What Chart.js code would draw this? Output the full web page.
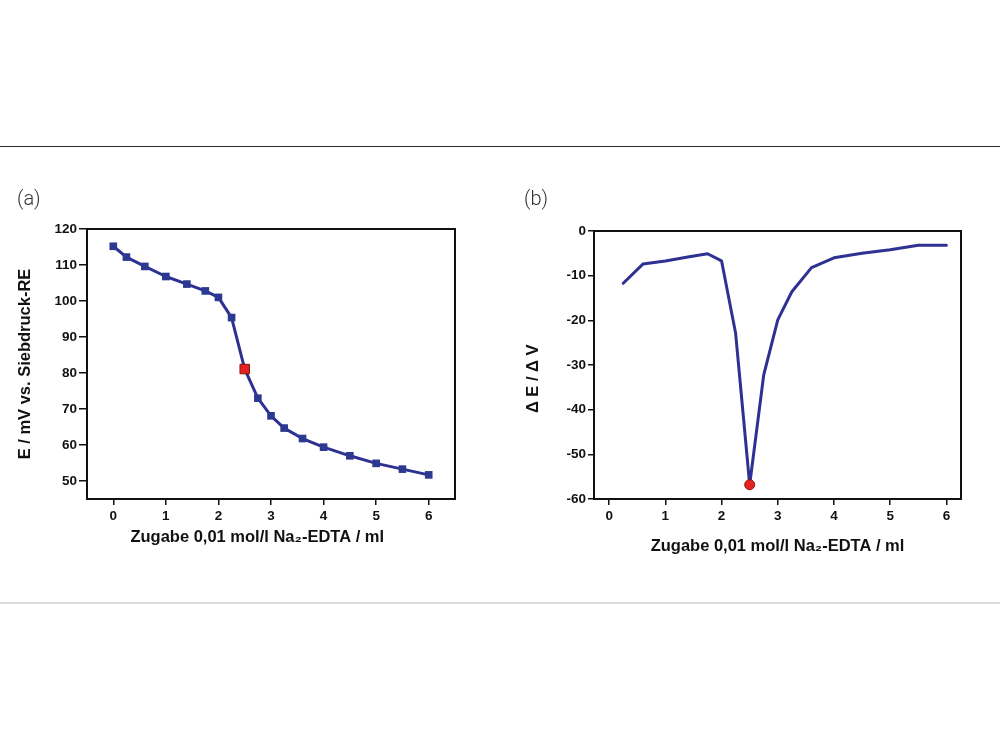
<!DOCTYPE html>
<html><head><meta charset="utf-8">
<script src="https://cdn.jsdelivr.net/npm/chart.js@4.4.1/dist/chart.umd.min.js"></script>
<style>
html,body{margin:0;padding:0;background:#fff;width:1000px;height:750px;overflow:hidden;position:relative;}
.rule-top{position:absolute;left:0;top:146px;width:1000px;height:1px;background:#2a2a2a;}
.rule-bottom{position:absolute;left:0;top:602px;width:1000px;height:2px;background:#dedede;}
.chart-box{position:absolute;}
.panel-label{position:absolute;font-family:Roboto,"Open Sans",sans-serif;font-weight:300;font-size:20px;line-height:20px;color:#333;}
</style></head>
<body>
<div class="rule-top"></div>
<div class="rule-bottom"></div>
<div class="chart-box" style="left:0;top:200px;width:490px;height:400px;"><canvas id="chartA"></canvas></div>
<div class="chart-box" style="left:500px;top:200px;width:500px;height:400px;"><canvas id="chartB"></canvas></div>
<div class="panel-label" style="left:17px;top:188px;">(a)</div>
<div class="panel-label" style="left:524px;top:188px;">(b)</div>
<script>
// ---- data (a): titration curve ----
const volumeA = [0, 0.25, 0.6, 1.0, 1.4, 1.75, 2.0, 2.25, 2.5, 2.75, 3.0, 3.25, 3.6, 4.0, 4.5, 5.0, 5.5, 6.0];
const potentialA = [115.2, 112.2, 109.6, 106.8, 104.7, 102.8, 101.0, 95.4, 81.1, 73.0, 68.1, 64.7, 61.8, 59.4, 57.0, 54.9, 53.3, 51.7];
// ---- data (b): first derivative ----
const volumeB = [0.25, 0.6, 1.0, 1.4, 1.75, 2.0, 2.25, 2.5, 2.75, 3.0, 3.25, 3.6, 4.0, 4.5, 5.0, 5.5, 6.0];
const derivB = [-11.7, -7.4, -6.7, -5.8, -5.1, -6.7, -22.9, -56.8, -32.2, -19.9, -13.6, -8.2, -6.0, -5.0, -4.2, -3.2, -3.2];
// equivalence point volume (highlighted in red)
const equivalenceVolume = 2.5;
// ---- tick labels ----
const xTickValues = [0, 1, 2, 3, 4, 5, 6];
const yTicksA = [50, 60, 70, 80, 90, 100, 110, 120];
const yTicksB = [-60, -50, -40, -30, -20, -10, 0];
// ---- texts ----
const xTitle = 'Zugabe 0,01 mol/l Na\u2082-EDTA / ml';
const yTitleA = 'E / mV vs. Siebdruck-RE';
const yTitleB = '\u0394 E / \u0394 V';

const NAVY = '#2E3192', MARK = '#2B3990', RED = '#E42320', DARKRED = '#8A1212', INK = '#111111';
const FONT = '"Liberation Sans", Arial, Helvetica, sans-serif';

const pts = (xs, ys) => xs.map((x, i) => ({x: x, y: ys[i]}));
const eqA = volumeA.indexOf(equivalenceVolume);
const eqB = volumeB.indexOf(equivalenceVolume);

const frame = {
  id: 'frame',
  beforeDatasetsDraw(chart) {
    const {ctx, chartArea: a} = chart;
    ctx.save();
    ctx.strokeStyle = INK;
    ctx.lineWidth = 2;
    ctx.strokeRect(a.left, a.top, a.right - a.left, a.bottom - a.top);
    ctx.restore();
  }
};

function xScale(min, max, titleText, titlePadBottom) {
  return {
    type: 'linear', position: 'bottom', min: min, max: max,
    afterBuildTicks: s => { s.ticks = xTickValues.map(v => ({value: v})); },
    afterFit: s => { s.height = 101; },
    grid: {drawOnChartArea: false, drawTicks: true, tickLength: 6, color: INK, lineWidth: 1.5},
    border: {display: false},
    ticks: {color: INK, font: {family: FONT, size: 13.5, weight: 'bold'}, padding: 3, maxRotation: 0, autoSkip: false},
    title: {display: true, text: titleText, color: INK, font: {family: FONT, size: 16.5, weight: 'bold'}, padding: {top: 0, bottom: titlePadBottom}}
  };
}
function yScale(min, max, tickList, width, tickLen, titleText, titlePadTop) {
  return {
    type: 'linear', position: 'left', min: min, max: max,
    afterBuildTicks: s => { s.ticks = tickList.map(v => ({value: v})); },
    afterFit: s => { s.width = width; },
    grid: {drawOnChartArea: false, drawTicks: true, tickLength: tickLen, color: INK, lineWidth: 1.5},
    border: {display: false},
    ticks: {color: INK, font: {family: FONT, size: 13.5, weight: 'bold'}, padding: 2, autoSkip: false},
    title: {display: true, text: titleText, color: INK, font: {family: FONT, size: 16.5, weight: 'bold'}, padding: {top: titlePadTop, bottom: 0}}
  };
}
const common = {
  responsive: true, maintainAspectRatio: false, animation: false, devicePixelRatio: 1,
  plugins: {legend: {display: false}, tooltip: {enabled: false}}
};

new Chart(document.getElementById('chartA'), {
  type: 'line',
  data: {
    datasets: [
      {label: 'E', order: 2, data: pts(volumeA, potentialA), borderColor: NAVY, borderWidth: 3, tension: 0, borderJoinStyle: 'round',
       pointStyle: 'rect', pointRadius: 5.4, pointBackgroundColor: MARK, pointBorderColor: MARK, pointBorderWidth: 0},
      {label: 'Äquivalenzpunkt', order: 1, data: [{x: volumeA[eqA], y: potentialA[eqA]}], showLine: false,
       pointStyle: 'rect', pointRadius: 6.7, pointBackgroundColor: RED, pointBorderColor: DARKRED, pointBorderWidth: 1}
    ]
  },
  options: Object.assign({}, common, {
    layout: {padding: {top: 29, right: 35, left: 0, bottom: 0}},
    scales: {
      x: xScale(-0.5, 6.5, xTitle + '      ', 53),
      y: yScale(45, 120, yTicksA, 87, 8, yTitleA, 16)
    }
  }),
  plugins: [frame]
});

new Chart(document.getElementById('chartB'), {
  type: 'line',
  data: {
    datasets: [
      {label: '\u0394E/\u0394V', order: 2, data: pts(volumeB, derivB), borderColor: NAVY, borderWidth: 3, tension: 0,
       borderJoinStyle: 'round', borderCapStyle: 'round', pointRadius: 0},
      {label: 'Äquivalenzpunkt', order: 1, data: [{x: volumeB[eqB], y: derivB[eqB]}], showLine: false,
       pointStyle: 'circle', pointRadius: 5, pointBackgroundColor: RED, pointBorderColor: DARKRED, pointBorderWidth: 1}
    ]
  },
  options: Object.assign({}, common, {
    layout: {padding: {top: 31, right: 39, left: 0, bottom: 0}},
    scales: {
      x: xScale(-0.27, 6.26, xTitle, 44),
      y: yScale(-60, 0, yTicksB, 94, 6, yTitleB + '      ', 23.4)
    }
  }),
  plugins: [frame]
});
</script>
</body></html>
